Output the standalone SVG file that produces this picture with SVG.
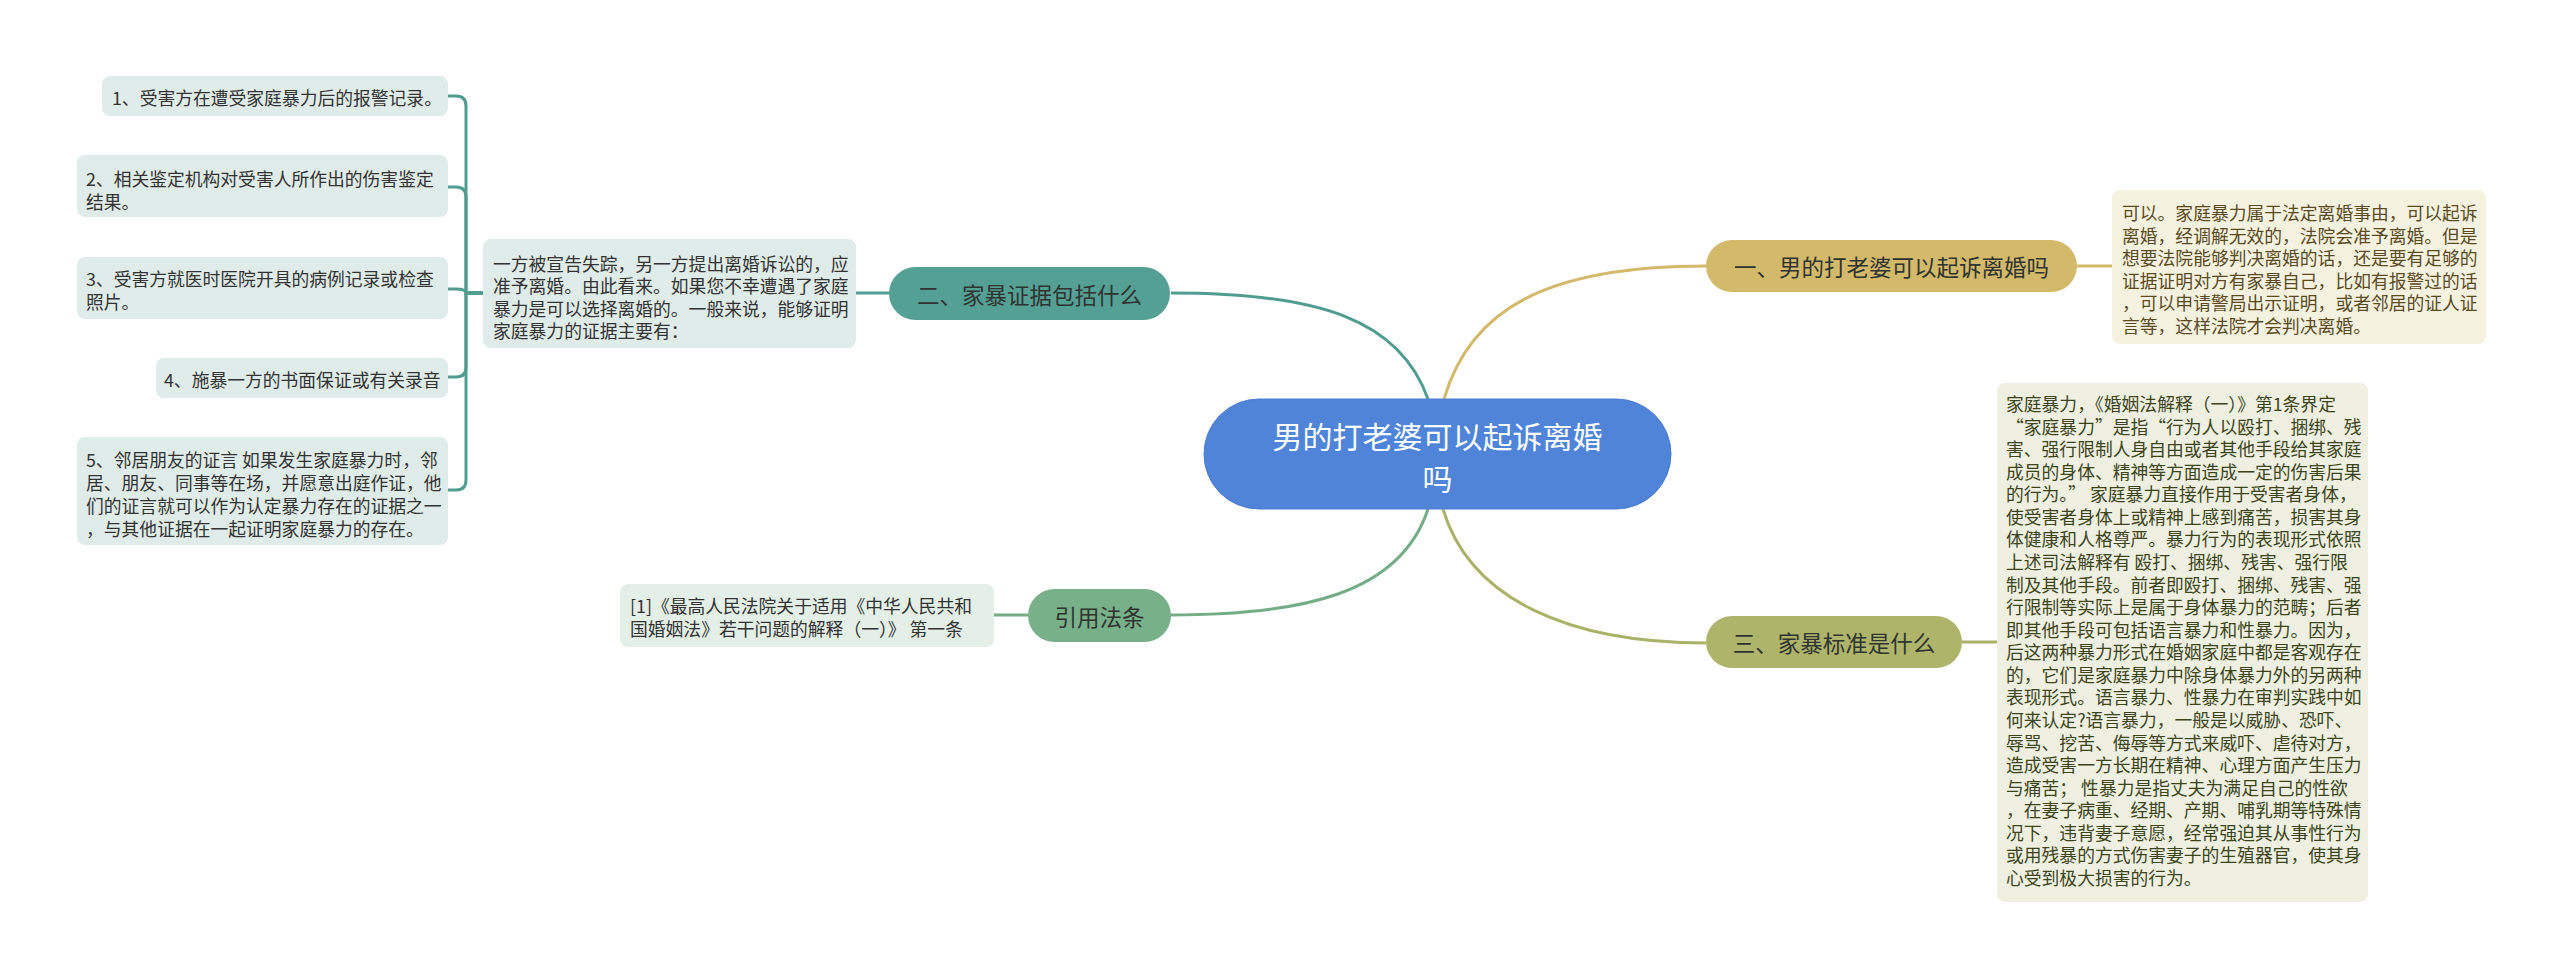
<svg xmlns="http://www.w3.org/2000/svg" width="2560" height="979" viewBox="0 0 2560 979">
<style>
text{font-family:"Noto Sans CJK SC","Noto Sans",sans-serif;dominant-baseline:central}
.t{font-size:17.8px}
.p{font-size:22.5px;fill:#2f3430;text-anchor:middle}
.c{fill:none;stroke-width:3}
.teal{stroke:#519c90}
.gold{stroke:#d3b96a}
.olive{stroke:#aab268}
.green{stroke:#74ac86}
</style>
<rect width="2560" height="979" fill="#ffffff"/>
<g id="connectors">
<path class="c teal" d="M1428 399 C1400 320 1320 293 1171 293"/>
<path class="c gold" d="M1444 399 C1470 310 1545 266 1706 266"/>
<path class="c green" d="M1428 509 C1400 595 1300 615 1170 615"/>
<path class="c olive" d="M1443 509 C1470 600 1570 643 1706 643"/>
<path class="c gold" d="M2077 266 H2112"/>
<path class="c olive" d="M1962 642 H1997"/>
<path class="c teal" d="M856 293 H890"/>
<path class="c green" d="M994 615 H1028"/>
<path class="c teal" d="M483 293 H466 V106 Q466 96 456 96 H448"/>
<path class="c teal" d="M483 293 H466 V197 Q466 187 456 187 H448"/>
<path class="c teal" d="M483 293 H466 Q466 289 456 289 H448"/>
<path class="c teal" d="M483 293 H466 V367 Q466 377 456 377 H448"/>
<path class="c teal" d="M483 293 H466 V480 Q466 490 456 490 H448"/>
</g>
<g id="root">
<rect x="1204" y="399" width="467" height="110" rx="55" fill="#4f84d9" stroke="#4a7ccd" stroke-width="1"/>
<text x="1437.5" y="435" font-size="30" fill="#ffffff" text-anchor="middle">男的打老婆可以起诉离婚</text>
<text x="1437.5" y="477" font-size="30" fill="#ffffff" text-anchor="middle">吗</text>
</g>
<g id="branch1">
<rect x="1706" y="240" width="371" height="52" rx="26" fill="#d3b96a"/>
<text class="p" x="1891.5" y="266">一、男的打老婆可以起诉离婚吗</text>
</g>
<g id="leaf1">
<rect x="2112" y="190" width="374" height="154" rx="8" fill="#f6f2e0"/>
<text class="t" fill="#5a4a1e">
<tspan x="2122" y="212">可以。家庭暴力属于法定离婚事由，可以起诉</tspan>
<tspan x="2122" y="234.6">离婚，经调解无效的，法院会准予离婚。但是</tspan>
<tspan x="2122" y="257.2">想要法院能够判决离婚的话，还是要有足够的</tspan>
<tspan x="2122" y="279.8">证据证明对方有家暴自己，比如有报警过的话</tspan>
<tspan x="2122" y="302.4">，可以申请警局出示证明，或者邻居的证人证</tspan>
<tspan x="2122" y="325">言等，这样法院才会判决离婚。</tspan>
</text>
</g>
<g id="branch3">
<rect x="1706" y="616" width="256" height="52" rx="26" fill="#aeb56b"/>
<text class="p" x="1834" y="642">三、家暴标准是什么</text>
</g>
<g id="leaf3">
<rect x="1997" y="383" width="371" height="519" rx="8" fill="#eff0e2"/>
<text class="t" fill="#3e4419">
<tspan x="2006" y="403">家庭暴力，《婚姻法解释（一）》第1条界定</tspan>
<tspan x="2006" y="425.57">“家庭暴力”是指“行为人以殴打、捆绑、残</tspan>
<tspan x="2006" y="448.14">害、强行限制人身自由或者其他手段给其家庭</tspan>
<tspan x="2006" y="470.71">成员的身体、精神等方面造成一定的伤害后果</tspan>
<tspan x="2006" y="493.28">的行为。” 家庭暴力直接作用于受害者身体，</tspan>
<tspan x="2006" y="515.85">使受害者身体上或精神上感到痛苦，损害其身</tspan>
<tspan x="2006" y="538.42">体健康和人格尊严。暴力行为的表现形式依照</tspan>
<tspan x="2006" y="560.99">上述司法解释有 殴打、捆绑、残害、强行限</tspan>
<tspan x="2006" y="583.56">制及其他手段。前者即殴打、捆绑、残害、强</tspan>
<tspan x="2006" y="606.13">行限制等实际上是属于身体暴力的范畴；后者</tspan>
<tspan x="2006" y="628.7">即其他手段可包括语言暴力和性暴力。因为，</tspan>
<tspan x="2006" y="651.27">后这两种暴力形式在婚姻家庭中都是客观存在</tspan>
<tspan x="2006" y="673.84">的，它们是家庭暴力中除身体暴力外的另两种</tspan>
<tspan x="2006" y="696.41">表现形式。语言暴力、性暴力在审判实践中如</tspan>
<tspan x="2006" y="718.98">何来认定?语言暴力，一般是以威胁、恐吓、</tspan>
<tspan x="2006" y="741.55">辱骂、挖苦、侮辱等方式来威吓、虐待对方，</tspan>
<tspan x="2006" y="764.12">造成受害一方长期在精神、心理方面产生压力</tspan>
<tspan x="2006" y="786.69">与痛苦； 性暴力是指丈夫为满足自己的性欲</tspan>
<tspan x="2006" y="809.26">，在妻子病重、经期、产期、哺乳期等特殊情</tspan>
<tspan x="2006" y="831.83">况下，违背妻子意愿，经常强迫其从事性行为</tspan>
<tspan x="2006" y="854.4">或用残暴的方式伤害妻子的生殖器官，使其身</tspan>
<tspan x="2006" y="877">心受到极大损害的行为。</tspan>
</text>
</g>
<g id="branch2">
<rect x="889" y="267" width="281" height="53" rx="26.5" fill="#55a095"/>
<text class="p" x="1029.5" y="293.5">二、家暴证据包括什么</text>
</g>
<g id="leaf2">
<rect x="483" y="239" width="373" height="109" rx="8" fill="#e0ecea"/>
<text class="t" fill="#333333">
<tspan x="493" y="262.5">一方被宣告失踪，另一方提出离婚诉讼的，应</tspan>
<tspan x="493" y="285">准予离婚。由此看来。如果您不幸遭遇了家庭</tspan>
<tspan x="493" y="307.5">暴力是可以选择离婚的。一般来说，能够证明</tspan>
<tspan x="493" y="330">家庭暴力的证据主要有：</tspan>
</text>
</g>
<g id="ev1">
<rect x="102" y="76" width="346" height="40" rx="8" fill="#e0ecea"/>
<text class="t" fill="#333333" x="112" y="96.5">1、受害方在遭受家庭暴力后的报警记录。</text>
</g>
<g id="ev2">
<rect x="77" y="155" width="371" height="62" rx="8" fill="#e0ecea"/>
<text class="t" fill="#333333"><tspan x="86" y="178">2、相关鉴定机构对受害人所作出的伤害鉴定</tspan><tspan x="86" y="201">结果。</tspan></text>
</g>
<g id="ev3">
<rect x="77" y="257" width="371" height="62" rx="8" fill="#e0ecea"/>
<text class="t" fill="#333333"><tspan x="86" y="278">3、受害方就医时医院开具的病例记录或检查</tspan><tspan x="86" y="301">照片。</tspan></text>
</g>
<g id="ev4">
<rect x="156" y="358" width="292" height="40" rx="8" fill="#e0ecea"/>
<text class="t" fill="#333333" x="164" y="379">4、施暴一方的书面保证或有关录音</text>
</g>
<g id="ev5">
<rect x="77" y="437" width="371" height="108" rx="8" fill="#e0ecea"/>
<text class="t" fill="#333333">
<tspan x="86" y="458.5">5、邻居朋友的证言 如果发生家庭暴力时，邻</tspan>
<tspan x="86" y="481.5">居、朋友、同事等在场，并愿意出庭作证，他</tspan>
<tspan x="86" y="504.5">们的证言就可以作为认定暴力存在的证据之一</tspan>
<tspan x="86" y="527.5">，与其他证据在一起证明家庭暴力的存在。</tspan>
</text>
</g>
<g id="branch4">
<rect x="1028" y="589" width="143" height="53" rx="26.5" fill="#78b08a"/>
<text class="p" x="1099.5" y="615.5">引用法条</text>
</g>
<g id="leaf4">
<rect x="620" y="584" width="374" height="63" rx="8" fill="#e4efe8"/>
<text class="t" fill="#333333">
<tspan x="630" y="605">[1]《最高人民法院关于适用《中华人民共和</tspan>
<tspan x="630" y="627.5">国婚姻法》若干问题的解释（一）》 第一条</tspan>
</text>
</g>
</svg>
